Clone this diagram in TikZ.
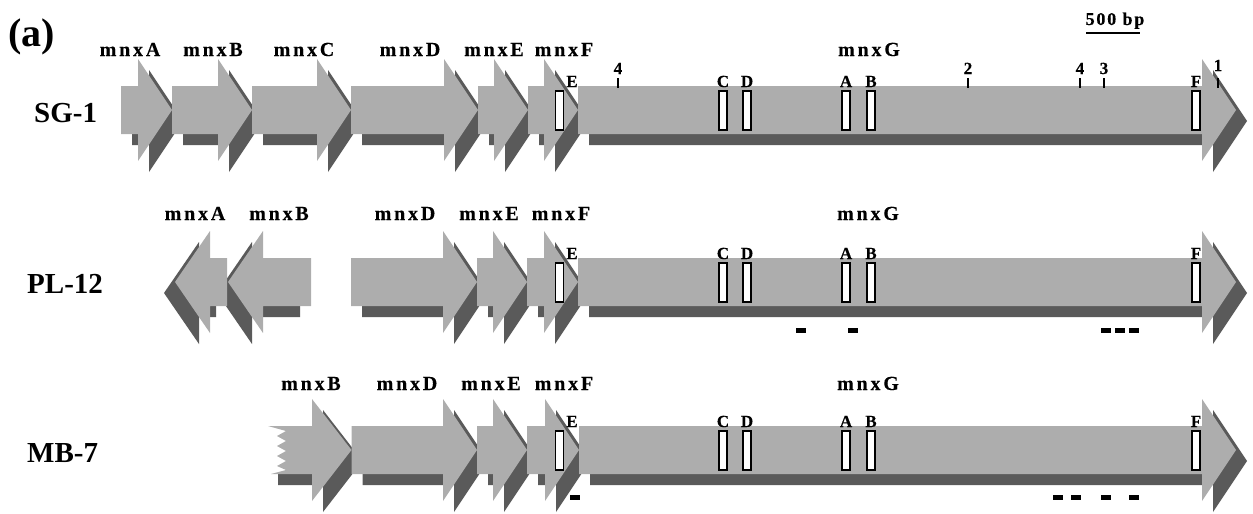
\documentclass[tikz,border=0pt]{standalone}
\usepackage{fontspec}
\setmainfont{Liberation Serif}
\newfontfamily\lsfont[LetterSpace=14,BoldFeatures={FakeBold=0.3}]{Liberation Serif}
\newfontfamily\lssfont[LetterSpace=10,BoldFeatures={FakeBold=0.3}]{Liberation Serif}
\newfontfamily\ltfont[BoldFeatures={FakeBold=0.3}]{Liberation Serif}
\definecolor{lgt}{HTML}{ADADAD}
\definecolor{shd}{HTML}{5A5A5A}
\tikzset{
  genelabel/.style={inner sep=0pt, anchor=base, font=\lsfont\bfseries\fontsize{20}{20}\selectfont},
  rowlabel/.style={inner sep=0pt, anchor=base west, font=\bfseries\fontsize{29}{29}\selectfont},
  lettlabel/.style={inner sep=0pt, anchor=base, font=\ltfont\bfseries\fontsize{17}{17}\selectfont},
  markbox/.style={draw=black, fill=white, line width=1.2pt},
  tickline/.style={draw=black, line width=2pt},
  probebar/.style={fill=black},
}
\newcommand\geneR[3]{% start, tip, cy
  \fill[shd,shift={(11,11)}] (#1,#3-24) -- (#2-34,#3-24) -- (#2-34,#3-51) -- (#2,#3) -- (#2-34,#3+51) -- (#2-34,#3+24) -- (#1,#3+24) -- cycle;
  \fill[lgt] (#1,#3-24) -- (#2-34,#3-24) -- (#2-34,#3-51) -- (#2,#3) -- (#2-34,#3+51) -- (#2-34,#3+24) -- (#1,#3+24) -- cycle;
}
\newcommand\geneL[3]{% tip, end, cy
  \fill[shd,shift={(-11,11)}] (#1,#3) -- (#1+35,#3-51) -- (#1+35,#3-24) -- (#2,#3-24) -- (#2,#3+24) -- (#1+35,#3+24) -- (#1+35,#3+51) -- cycle;
  \fill[lgt] (#1,#3) -- (#1+35,#3-51) -- (#1+35,#3-24) -- (#2,#3-24) -- (#2,#3+24) -- (#1+35,#3+24) -- (#1+35,#3+51) -- cycle;
}
\newcommand\probe[2]{\fill[probebar] (#1-5,#2-2.5) rectangle (#1+5,#2+2.5);}
\begin{document}
\begin{tikzpicture}[x=1pt,y=-1pt]
\path[use as bounding box] (0,0) rectangle (1253,514);

% title and scale
\node[inner sep=0pt, anchor=base west, font=\bfseries\fontsize{40}{40}\selectfont] (title) at (8,46) {(a)};
\node[inner sep=0pt, anchor=base, font=\lssfont\bfseries\fontsize{18}{18}\selectfont] (scaletxt) at (1115,25) {500 bp};
\coordinate (sb1) at (1086,33);
\coordinate (sb2) at (1140,33);
\draw[line width=2.5pt] (sb1) -- (sb2);

% row labels
\node[rowlabel] (r1) at (34,122) {SG-1};
\node[rowlabel] (r2) at (27,293) {PL-12};
\node[rowlabel] (r3) at (27,462) {MB-7};

% ---------- Row 1: SG-1 ----------
\geneR{121}{172}{110}
\geneR{172}{252}{110}
\geneR{252}{351}{110}
\geneR{351}{478}{110}
\geneR{478}{528}{110}
\geneR{528}{578}{110}
\geneR{578}{1236}{110}
\node[genelabel] (a1) at (130,56) {mnxA};
\node[genelabel] (b1) at (213,56) {mnxB};
\node[genelabel] (c1) at (304,56) {mnxC};
\node[genelabel] (d1) at (410,56) {mnxD};
\node[genelabel] (e1) at (494,56) {mnxE};
\node[genelabel] (f1) at (564,56) {mnxF};
\node[genelabel] (g1) at (869,56) {mnxG};
% ticks
\foreach \tx/\tl/\tb in {618/4/74, 968/2/74, 1080/4/74, 1104/3/74, 1218/1/71}{
  \draw[tickline] (\tx,78) -- (\tx,88);
  \node[lettlabel] at (\tx,\tb) {\tl};
}

% ---------- Row 2: PL-12 ----------
\geneL{228}{311}{282}
\geneL{175}{227}{282}
\geneR{351}{477}{282}
\geneR{477}{527}{282}
\geneR{527}{578}{282}
\geneR{578}{1236}{282}
\node[genelabel] (a2) at (195,220) {mnxA};
\node[genelabel] (b2) at (279,220) {mnxB};
\node[genelabel] (d2) at (405,220) {mnxD};
\node[genelabel] (e2) at (489,220) {mnxE};
\node[genelabel] (f2) at (561,220) {mnxF};
\node[genelabel] (g2) at (868,220) {mnxG};
\probe{801}{330}\probe{853}{330}\probe{1106}{330}\probe{1120}{330}\probe{1134}{330}

% ---------- Row 3: MB-7 ----------
\fill[shd] (290,437) -- (323,437) -- (323,410) -- (362.5,461) -- (323,512) -- (323,485) -- (278,485) -- (278,474) -- (290,474) -- cycle;
\fill[lgt] (268,426) -- (312,426) -- (312,399) -- (351.5,450) -- (312,501) -- (312,474) -- (271,474)
  -- (286,470) -- (277,466) -- (286,461) -- (277,456) -- (286,451) -- (277,446) -- (286,441) -- (277,436) -- (286,431) -- cycle;
\geneR{351.5}{477}{450}
\geneR{477}{527}{450}
\geneR{527}{579}{450}
\geneR{579}{1236}{450}
\node[genelabel] (b3) at (311,390) {mnxB};
\node[genelabel] (d3) at (407,390) {mnxD};
\node[genelabel] (e3) at (491,390) {mnxE};
\node[genelabel] (f3) at (564,390) {mnxF};
\node[genelabel] (g3) at (868,390) {mnxG};
\probe{575}{497}\probe{1058}{497}\probe{1076}{497}\probe{1106}{497}\probe{1134}{497}

% ---------- conserved region boxes ----------
\foreach \cy in {110,282,450}{
  \foreach \bx in {559.5,723,747,846,871,1196}{
    \draw[markbox] (\bx-4,\cy-19) rectangle (\bx+4,\cy+20);
  }
  \node[lettlabel] at (572,\cy-23) {E};
  \node[lettlabel] at (723,\cy-23) {C};
  \node[lettlabel] at (747,\cy-23) {D};
  \node[lettlabel] at (846,\cy-23) {A};
  \node[lettlabel] at (871,\cy-23) {B};
  \node[lettlabel] at (1196,\cy-23) {F};
}
\end{tikzpicture}
\end{document}
